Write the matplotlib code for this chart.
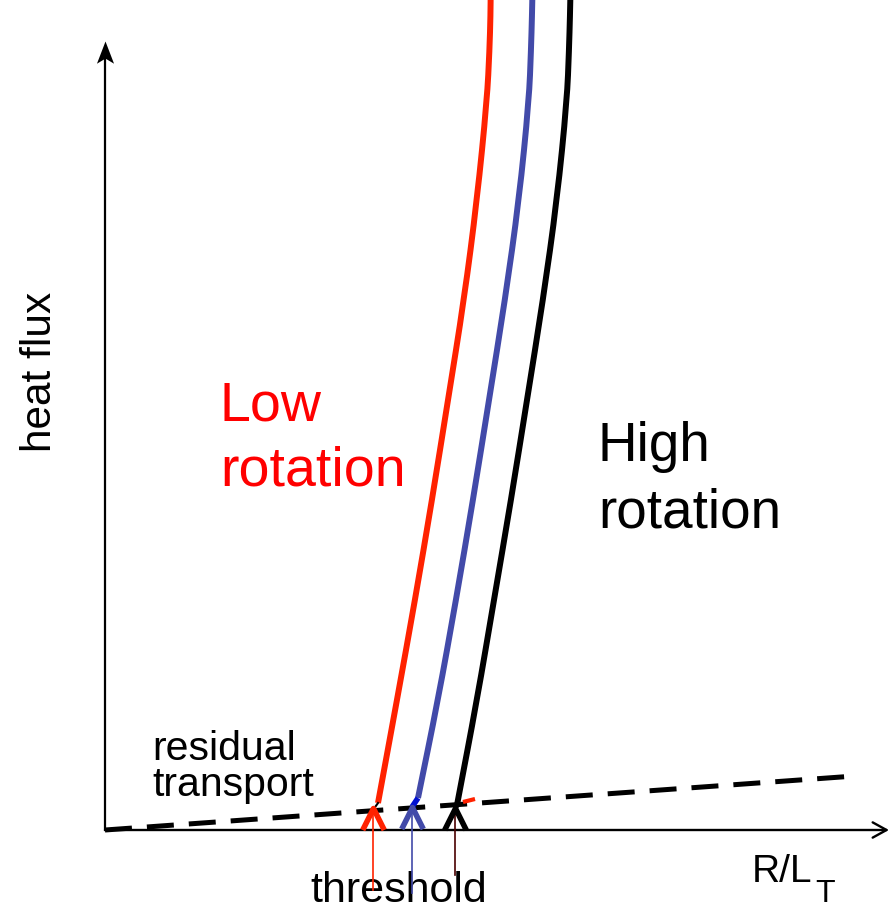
import matplotlib
matplotlib.use("Agg")
import matplotlib.pyplot as plt
import numpy as np
from matplotlib.path import Path
from matplotlib.patches import FancyArrowPatch, PathPatch

plt.rcParams["font.family"] = ["Liberation Sans", "DejaVu Sans"]

# Heat flux vs R/L_T curves (arbitrary units)
red_rlt = [2.73, 2.92, 3.10, 3.27, 3.43, 3.59, 3.72, 3.82, 3.845, 3.855, 3.857]
red_flux = [0.27, 1.30, 2.30, 3.30, 4.30, 5.30, 6.30, 7.30, 7.80, 8.15, 8.40]

blue_rlt = [3.13, 3.33, 3.51, 3.68, 3.84, 4.00, 4.14, 4.24, 4.26, 4.27, 4.275]
blue_flux = [0.32, 1.30, 2.30, 3.30, 4.30, 5.30, 6.30, 7.30, 7.80, 8.15, 8.40]

black_rlt = [3.52, 3.72, 3.89, 4.06, 4.22, 4.38, 4.52, 4.62, 4.64, 4.65, 4.655]
black_flux = [0.25, 1.30, 2.30, 3.30, 4.30, 5.30, 6.30, 7.30, 7.80, 8.15, 8.40]

# residual transport line
resid_rlt = [0.0, 7.50]
resid_flux = [0.0, 0.54]

# thresholds
thr_rlt = [2.68, 3.07, 3.50]
thr_tip = [0.22, 0.23, 0.22]
thr_tail = [-0.60, -0.63, -0.45]
thr_head_colors = ["#ff2200", "#424aa9", "#000000"]
thr_shaft_colors = ["#ff2200", "#424aa9", "#4a0000"]

RED = "#ff2200"
BLUE = "#424aa9"


def smooth_path(xs, ys):
    """Quadratic-Bezier path through midpoints of the given points."""
    p = np.column_stack([xs, ys])
    verts = [p[0], (p[0] + p[1]) / 2]
    codes = [Path.MOVETO, Path.LINETO]
    for i in range(1, len(p) - 1):
        verts += [p[i], (p[i] + p[i + 1]) / 2]
        codes += [Path.CURVE3, Path.CURVE3]
    verts.append(p[-1])
    codes.append(Path.LINETO)
    return Path(verts, codes)


fig = plt.figure(figsize=(8.9, 9.11), dpi=100)
ax = fig.add_axes([0, 0, 1, 1])
ax.set_xlim(-1.05, 7.85)
ax.set_ylim(-0.81, 8.30)
ax.axis("off")

# axes with arrows
ax.plot([0, 0], [0, 7.75], color="k", lw=1.6, zorder=3)
stealth = Path([(0, 0), (-0.5, -1.3), (0, -1.0), (0.5, -1.3), (0, 0)],
               [Path.MOVETO, Path.LINETO, Path.LINETO, Path.LINETO, Path.CLOSEPOLY])
ax.plot([0], [7.89], marker=stealth, markersize=32, color="k", markeredgewidth=0, zorder=3)
xa = FancyArrowPatch((0, 0), (7.84, 0), arrowstyle="->,head_length=1.0,head_width=0.55",
                     mutation_scale=10, lw=1.7, color="k", shrinkA=0, shrinkB=0, zorder=3)
ax.add_patch(xa)

# residual transport (dashed)
ax.plot(resid_rlt, resid_flux, color="k", lw=3.6, dashes=(5.4, 3.0),
        solid_capstyle="butt", dash_capstyle="butt", zorder=4)

# curves
for x, y, c in [(red_rlt, red_flux, RED), (blue_rlt, blue_flux, BLUE),
                (black_rlt, black_flux, "k")]:
    ax.add_patch(PathPatch(smooth_path(x, y), fill=False, edgecolor=c, lw=4.3,
                           capstyle="butt", joinstyle="round", zorder=5))

# curve feet joining the residual line
ax.plot([thr_rlt[0], red_rlt[0]], [thr_tip[0] - 0.02, red_flux[0]], color="k", lw=1.5, zorder=5)
ax.plot([thr_rlt[1], blue_rlt[0]], [thr_tip[1], blue_flux[0]], color="#0010d0", lw=4.0,
        solid_capstyle="butt", zorder=5)
ax.plot([thr_rlt[2], black_rlt[0]], [thr_tip[2], black_flux[0]], color="k", lw=4.0,
        solid_capstyle="butt", zorder=5)
ax.plot([3.58, 3.70], [0.28, 0.31], color=RED, lw=3.0, solid_capstyle="butt", zorder=5)

# threshold arrows
chevron = Path([(-1, -2), (0, 0), (1, -2)], [Path.MOVETO, Path.LINETO, Path.LINETO])
for xr, tip, tail, hc, sc in zip(thr_rlt, thr_tip, thr_tail, thr_head_colors, thr_shaft_colors):
    ax.plot([xr, xr], [tail, tip], color=sc, lw=1.2, zorder=6)
    ax.plot([xr], [tip], marker=chevron, markersize=31, markerfacecolor="none",
            markeredgecolor=hc, markeredgewidth=4.0, zorder=7)

# labels
ax.text(-0.65, 4.58, "heat flux", rotation=90, ha="center", va="center", fontsize=30.5)
ax.text(1.15, 4.10, "Low", color="#ff0000", fontsize=40, ha="left", va="baseline")
ax.text(1.15, 3.45, "rotation", color="#ff0000", fontsize=40, ha="left", va="baseline")
ax.text(4.93, 3.69, "High", color="k", fontsize=39.5, ha="left", va="baseline")
ax.text(4.93, 3.02, "rotation", color="k", fontsize=39.5, ha="left", va="baseline")
ax.text(0.47, 0.70, "residual", fontsize=29.5, ha="left", va="baseline")
ax.text(0.47, 0.34, "transport", fontsize=29.5, ha="left", va="baseline")
ax.text(2.05, -0.715, "threshold", fontsize=31, ha="left", va="baseline")
ax.text(6.47, -0.52, "R/L", fontsize=28, ha="left", va="baseline")
ax.text(7.10, -0.725, "T", fontsize=23, ha="left", va="baseline")

fig.savefig("out.png", dpi=100)
